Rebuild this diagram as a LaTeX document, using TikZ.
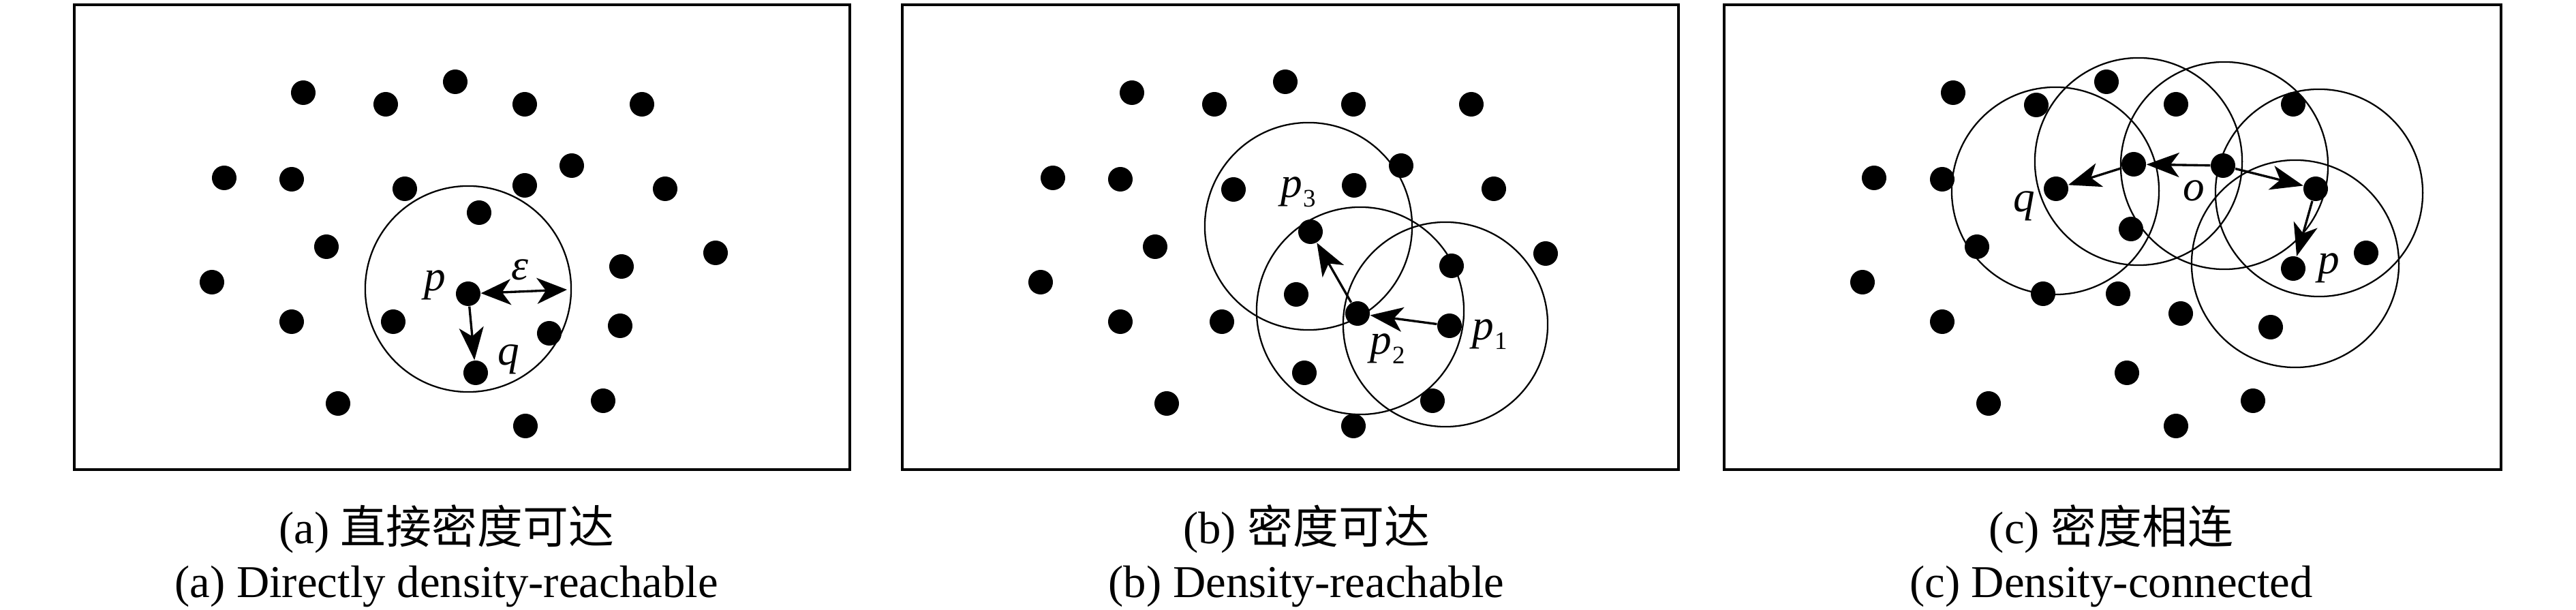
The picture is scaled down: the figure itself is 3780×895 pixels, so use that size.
\documentclass[tikz,border=0pt]{standalone}
\usepackage{fontspec}
\setmainfont{Liberation Serif}
\newfontfamily\cjk{Noto Sans CJK SC}
\usetikzlibrary{arrows.meta,positioning}

% point label with a subscript
\newcommand{\pidx}[1]{\textit{p}\kern0.3pt\raisebox{-4pt}{\fontsize{10.5}{10.5}\selectfont\upshape #1}}

\begin{document}
\begin{tikzpicture}[x=0.01cm,y=-0.01cm,
    panelbox/.style={line width=1.15pt},
    nbhd/.style={line width=0.65pt},
    pt/.style={circle,fill=black,inner sep=0pt,minimum size=3.6mm},
    arr/.style={line width=0.95pt,-{Stealth[length=4.8mm,width=3.6mm,inset=1.3mm]}},
    dblarr/.style={line width=0.95pt,{Stealth[length=4.4mm,width=3.8mm,inset=1.3mm]}-{Stealth[length=4.4mm,width=3.8mm,inset=1.3mm]}},
    lbl/.style={inner sep=0pt,font=\fontsize{18}{18}\selectfont\itshape},
    captxt/.style={anchor=base,inner sep=0pt,font=\fontsize{19}{19}\selectfont}]
  \useasboundingbox (0,0) rectangle (3780,895);

  % (a) directly density-reachable
  \draw[panelbox] (109,7) rectangle (1247,689);
  \foreach \x/\y [count=\i] in {445/136,566/153,668/120,770/153,942/153,329/261,428/263,
      594/277,770/272,839/243,976/277,703/312,479/362,1050/371,912/391,311/414,
      428/472,577/472,806/489,910/478,496/592,885/588,771/625}
    \node[pt] (a\i) at (\x,\y) {};
  \node[pt] (pa) at (687,431) {};
  \node[pt] (qa) at (698,547) {};
  \draw[nbhd] (687,424) circle[radius=1.51cm];
  \coordinate (epsend) at (832,425);
  \draw[arr] (pa) -- (qa);
  \draw[dblarr] (pa) -- (epsend);
  \node[lbl] (lpa) at (638,418) {p};
  \node[lbl] (lqa) at (746,527) {q};
  \node[lbl] (leps) at (763,396) {ε};

  % (b) density-reachable
  \draw[panelbox] (1324,7) rectangle (2463,689);
  \foreach \x/\y [count=\i] in {1661/136,1782/153,1886/120,1986/153,2159/153,1545/261,1644/263,
      1810/278,1987/272,2056/243,2192/277,1695/362,2268/372,2130/390,1527/414,
      1902/432,1644/472,1793/472,1914/547,1712/592,2102/588,1986/625}
    \node[pt] (b\i) at (\x,\y) {};
  \node[pt] (p1) at (2127,478) {};
  \node[pt] (p2) at (1992,460) {};
  \node[pt] (p3) at (1923,340) {};
  \draw[nbhd] (1920,332) circle[radius=1.52cm];
  \draw[nbhd] (1996,456) circle[radius=1.52cm];
  \draw[nbhd] (2121,476) circle[radius=1.50cm];
  \draw[arr] (p1) -- (p2);
  \draw[arr] (p2) -- (p3);
  \node[lbl] (lp1) at (2186,491) {\pidx{1}};
  \node[lbl] (lp2) at (2036,512) {\pidx{2}};
  \node[lbl] (lp3) at (1905,282) {\pidx{3}};

  % (c) density-connected
  \draw[panelbox] (2530,7) rectangle (3670,689);
  \foreach \x/\y [count=\i] in {2866/136,2988/154,3091/120,3193/153,3365/153,2750/261,2850/263,
      3127/336,2901/362,3472/371,2733/414,2998/431,3108/431,3200/460,2850/472,
      3332/480,3121/547,2918/592,3306/588,3193/625}
    \node[pt] (c\i) at (\x,\y) {};
  \node[pt] (oc) at (3262,243) {};
  \node[pt] (ml) at (3131,241) {};
  \node[pt] (mr) at (3398,277) {};
  \node[pt] (qc) at (3017,277) {};
  \node[pt] (pc) at (3365,394) {};
  \foreach \cx/\cy in {3016/280,3138/237,3264/243,3403/283,3368/387}
    \draw[nbhd] (\cx,\cy) circle[radius=1.52cm];
  \draw[arr] (oc) -- (ml);
  \draw[arr] (ml) -- (qc);
  \draw[arr] (oc) -- (mr);
  \draw[arr] (mr) -- (pc);
  \node[lbl] (lqc) at (2970,302) {q};
  \node[lbl] (loc) at (3219,280) {o};
  \node[lbl] (lpc) at (3417,393) {p};

  % captions
  \node[captxt] (capa) at (655,798) {(a) {\cjk 直接密度可达}};
  \node[captxt] (enga) at (655,877) {(a) Directly density-reachable};
  \node[captxt] (capb) at (1917,798) {(b) {\cjk 密度可达}};
  \node[captxt] (engb) at (1917,877) {(b) Density-reachable};
  \node[captxt] (capc) at (3098,798) {(c) {\cjk 密度相连}};
  \node[captxt] (engc) at (3098,877) {(c) Density-connected};
\end{tikzpicture}
\end{document}
